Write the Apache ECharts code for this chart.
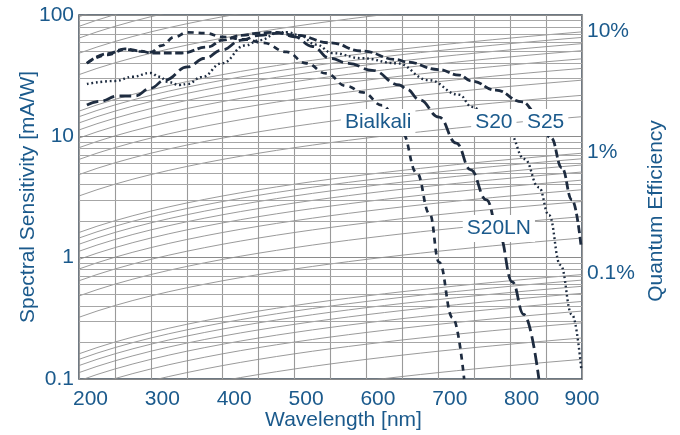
<!DOCTYPE html>
<html><head><meta charset="utf-8">
<script src="https://cdn.jsdelivr.net/npm/echarts@6/dist/echarts.min.js"></script>
<style>html,body{margin:0;padding:0;background:#fff}#c{width:680px;height:435px}</style>
</head><body><div id="c"></div>
<script>
// ---- data ----
const xTickLabels = [200, 300, 400, 500, 600, 700, 800, 900];
const yTickLabels = [0.1, 1, 10, 100];
const qeTickLabels = [0.1, 1, 10];

const bialkaliWl  = [211, 240, 264, 285, 300, 315, 333, 351, 375, 400, 430, 456, 489, 516, 544, 572, 595, 622, 650, 670, 688, 701, 720, 736];
const bialkaliVal = [40, 47, 52, 50, 49.5, 56, 66, 72, 71, 66, 63, 59, 49.6, 40, 33, 26, 23, 18, 10.6, 5, 2.3, 0.92, 0.32, 0.1];

const s20Wl  = [211, 250, 275, 299, 312, 324, 340, 351, 371, 399, 431, 451, 479, 490, 507, 530, 553, 594, 642, 687, 729, 747, 770, 799, 820, 840, 854, 870, 886, 899];
const s20Val = [27, 28.6, 31, 33.3, 31, 28, 26.5, 27, 30.8, 40, 56, 62, 72, 72, 68, 57, 48.5, 44, 40, 29, 22, 17.5, 14, 10.6, 6.5, 3.8, 2.24, 0.87, 0.34, 0.12];

const s25Wl  = [211, 240, 264, 285, 301, 343, 379, 400, 426, 451, 470, 503, 549, 594, 642, 656, 700, 729, 747, 780, 817, 836, 857, 872, 886, 899];
const s25Val = [40, 48, 52.5, 50.5, 48.6, 48.6, 54.5, 62, 68, 71, 72, 68, 59, 50.5, 43, 41, 35.5, 32, 28.5, 24, 19.2, 15.8, 9.7, 5.5, 3.0, 1.2];

const s20lnWl  = [211, 230, 254, 278, 300, 319, 351, 375, 399, 426, 451, 479, 500, 525, 549, 575, 608, 646, 656, 674, 701, 725, 745, 767, 785, 803, 819, 840];
const s20lnVal = [18.1, 19.5, 21.5, 21.5, 25, 29, 37.3, 44, 51.5, 62, 68, 71, 66, 55, 44, 40, 35, 26.5, 24.5, 20, 14.4, 8.8, 5.3, 3.0, 1.53, 0.63, 0.34, 0.1];

// quantum-efficiency reference lines, in percent
const qeLevels = [0.01,0.02,0.03,0.04,0.05,0.06,0.07,0.08,0.09,
                  0.1,0.2,0.3,0.4,0.5,0.6,0.7,0.8,0.9,
                  1,2,3,4,5,6,7,8,9,
                  10,20,30,40,50,60,70,80,90];
const minorGridValues = [0.2,0.3,0.4,0.5,0.6,0.7,0.8,0.9,2,3,4,5,6,7,8,9,20,30,40,50,60,70,80,90];

const curveLabelNames = ['Bialkali', 'S20', 'S25', 'S20LN'];
const curveLabelWl    = [617, 778, 850, 785];
const curveLabelVal   = [12.9, 12.9, 12.9, 1.72];

// ---- chart ----
const blue = '#1b5a8c';
const ink = '#1e2c40';
const font = 'Liberation Sans, Arial, sans-serif';
const pairs = (xs, ys) => xs.map((x, i) => [x, ys[i]]);
const isPow10 = v => Math.abs(Math.log10(v) - Math.round(Math.log10(v))) < 1e-6;

// sensitivity [mA/W] of a given QE (%) at wavelength (nm)
const qeToSens = (qe, wl) => qe / 100 * wl / 1.23984;
const gridWl = [];
for (let w = 200; w <= 900; w += 25) gridWl.push(w);

const series = [];
qeLevels.forEach(q => {
  series.push({
    type: 'line', silent: true, symbol: 'none', z: 1,
    data: gridWl.map(w => [w, qeToSens(q, w)]),
    lineStyle: { color: '#8e8e8e', width: 0.9 }
  });
});
series.push({
  type: 'line', silent: true, symbol: 'none', z: 1, data: [],
  markLine: {
    silent: true, symbol: 'none', label: { show: false },
    lineStyle: { color: '#a6a6a6', width: 1, type: 'solid' },
    data: minorGridValues.map(v => ({ yAxis: v }))
  }
});

function curve(name, xs, ys, dash, width) {
  return {
    name, type: 'line', symbol: 'none', z: 5,
    smooth: 0.45, smoothMonotone: 'x',
    data: pairs(xs, ys),
    lineStyle: { color: ink, width: width, type: dash, cap: 'butt' }
  };
}
series.push(curve('Bialkali', bialkaliWl, bialkaliVal, [6, 5], 2.7));
series.push(curve('S20', s20Wl, s20Val, [1.8, 2.8], 2.4));
series.push(curve('S25', s25Wl, s25Val, [8, 3.5], 2.8));
series.push(curve('S20LN', s20lnWl, s20lnVal, [12, 5], 2.8));

series.push({
  type: 'scatter', z: 10, symbol: 'circle', symbolSize: 1, silent: true,
  itemStyle: { color: 'rgba(255,255,255,0)', opacity: 1 },
  data: curveLabelNames.map((n, i) => ({ value: [curveLabelWl[i], curveLabelVal[i]], name: n })),
  label: {
    show: true, position: [0, 0], align: 'center', verticalAlign: 'middle',
    formatter: p => p.name, opacity: 1,
    color: blue, fontFamily: font, fontSize: 21, textBorderWidth: 0,
    backgroundColor: '#fff', padding: [3, 4, 3, 4]
  }
});

const chart = echarts.init(document.getElementById('c'), null, { renderer: 'canvas' });
chart.setOption({
  animation: false,
  backgroundColor: '#fff',
  grid: { left: 79, right: 98, top: 15, bottom: 56, containLabel: false, outerBoundsMode: 'none',
          show: true, borderColor: '#3e4c5a', borderWidth: 1.5, backgroundColor: 'transparent' },
  xAxis: {
    type: 'value', min: 200, max: 900, interval: 50,
    axisLine: { show: false }, axisTick: { show: false },
    splitLine: { show: true, lineStyle: { color: '#9a9a9a', width: 1.1 } },
    axisLabel: {
      margin: 10,
      formatter: v => xTickLabels.indexOf(v) < 0 ? '' : (v === 900 ? '{b|' + v + '}' : '{a|' + v + '}'),
      rich: {
        a: { color: blue, fontFamily: font, fontSize: 21, padding: [0, 0, 0, 23] },
        b: { color: blue, fontFamily: font, fontSize: 21 }
      }
    },
    name: 'Wavelength [nm]', nameLocation: 'middle', nameGap: 31, nameMoveOverlap: false,
    nameTextStyle: { color: blue, fontFamily: font, fontSize: 21, padding: [0, 0, 0, 26] }
  },
  yAxis: [{
    type: 'log', min: 0.1, max: 100,
    axisLine: { show: false }, axisTick: { show: false },
    splitLine: { show: true, lineStyle: { color: '#8a8a8a', width: 1.2 } },
    axisLabel: {
      margin: 5, color: blue, fontFamily: font, fontSize: 21,
      formatter: v => {
        const r = +(+v).toPrecision(6);
        return yTickLabels.indexOf(r) >= 0 ? String(r) : '';
      }
    },
    name: 'Spectral Sensitivity [mA/W]', nameLocation: 'middle', nameGap: 40, nameMoveOverlap: false,
    nameTextStyle: { color: blue, fontFamily: font, fontSize: 21 }
  }, {
    type: 'log', position: 'right', min: 0.1 / 7.4, max: 100 / 7.4,
    axisLine: { show: false }, axisTick: { show: false }, splitLine: { show: false },
    axisLabel: {
      margin: 5, color: blue, fontFamily: font, fontSize: 21,
      formatter: v => {
        const r = +(+v).toPrecision(6);
        return (isPow10(v) && qeTickLabels.indexOf(r) >= 0) ? r + '%' : '';
      }
    },
    name: 'Quantum Efficiency', nameLocation: 'middle', nameGap: 64, nameMoveOverlap: false,
    nameTextStyle: { color: blue, fontFamily: font, fontSize: 21, padding: [0, 28, 0, 0] }
  }],
  series
});
</script>
</body></html>
